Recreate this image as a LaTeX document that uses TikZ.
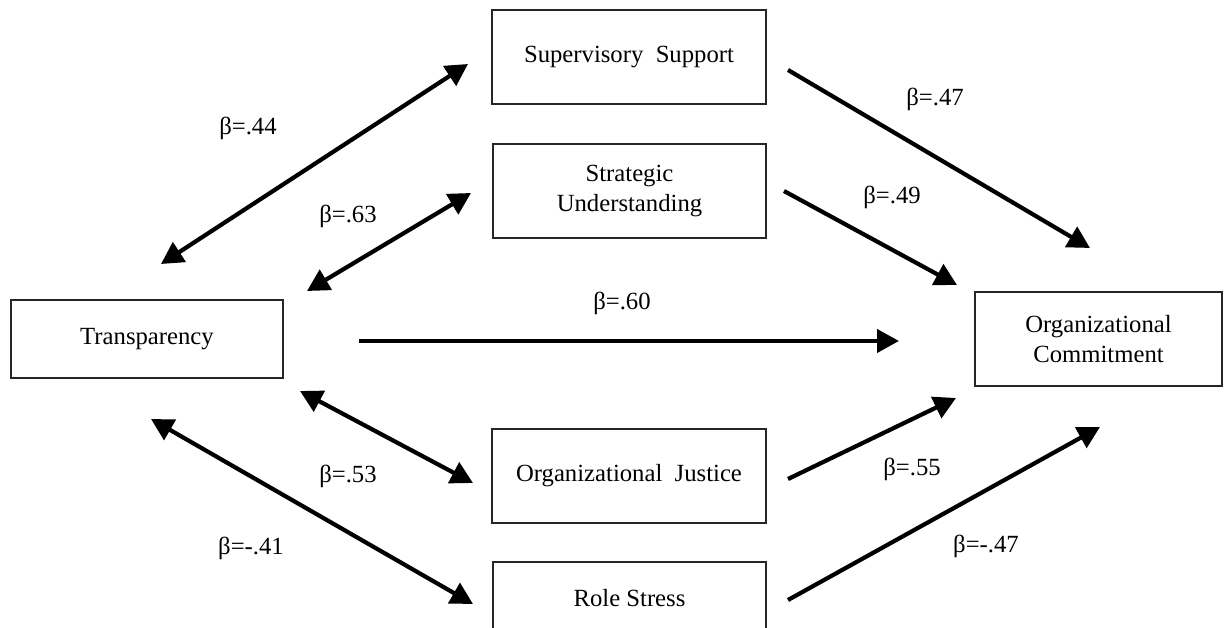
\documentclass[tikz,border=0pt]{standalone}
\usepackage{fontspec}
\setmainfont{Liberation Serif}
\usetikzlibrary{arrows.meta}
\begin{document}
\begin{tikzpicture}[x=1pt,y=-1pt,
  every node/.style={font=\fontsize{24.7pt}{30pt}\selectfont},
  box/.style={draw=black!85, line width=1.4pt, minimum height=94pt, align=center, inner sep=0pt},
  lbl/.style={inner sep=0pt},
  conn/.style={line width=4.2pt, -{Triangle[length=22pt,width=23pt]}},
  dconn/.style={line width=4.2pt, {Triangle[length=22pt,width=23pt]}-{Triangle[length=22pt,width=23pt]}}]
\useasboundingbox (0,0) rectangle (1224,628);
\fill[white] (0,0) rectangle (1224,628);
\clip (0,0) rectangle (1224,628);

% boxes
\node[box, minimum width=274pt] (sup) at (629,57) {Supervisory\ \ Support};
\node[box, minimum width=273pt] (strat) at (629.5,191) {Strategic\\Understanding};
\node[box, minimum width=272pt, minimum height=78pt] (tr) at (147,339) {Transparency};
\node[box, minimum width=247pt] (oc) at (1098.5,339) {Organizational\\Commitment};
\node[box, minimum width=274pt] (oj) at (629,476) {Organizational\ \ Justice};
\node[box, minimum width=273pt, minimum height=72pt] (rs) at (629.5,598) {Role Stress};

% connector end points
\coordinate (a1s) at (161,264); \coordinate (a1e) at (468,64);
\coordinate (a2s) at (307,291); \coordinate (a2e) at (471,193);
\coordinate (a3s) at (359,341); \coordinate (a3e) at (899,341);
\coordinate (a4s) at (300,391); \coordinate (a4e) at (473,483);
\coordinate (a5s) at (151,419); \coordinate (a5e) at (473,604);
\coordinate (a6s) at (788,70);  \coordinate (a6e) at (1090,248);
\coordinate (a7s) at (784,191); \coordinate (a7e) at (957,285);
\coordinate (a8s) at (788,479); \coordinate (a8e) at (956,398);
\coordinate (a9s) at (788,600); \coordinate (a9e) at (1100,427);

% connectors
\draw[dconn] (a1s) -- (a1e);
\draw[dconn] (a2s) -- (a2e);
\draw[conn]  (a3s) -- (a3e);
\draw[dconn] (a4s) -- (a4e);
\draw[dconn] (a5s) -- (a5e);
\draw[conn]  (a6s) -- (a6e);
\draw[conn]  (a7s) -- (a7e);
\draw[conn]  (a8s) -- (a8e);
\draw[conn]  (a9s) -- (a9e);

% labels
\node[lbl] (l1) at (248,128) {β=.44};
\node[lbl] (l2) at (348,216) {β=.63};
\node[lbl] (l3) at (622,303) {β=.60};
\node[lbl] (l4) at (348,476) {β=.53};
\node[lbl] (l5) at (251,548) {β=-.41};
\node[lbl] (l6) at (935,99) {β=.47};
\node[lbl] (l7) at (892,197) {β=.49};
\node[lbl] (l8) at (912,469) {β=.55};
\node[lbl] (l9) at (986,546) {β=-.47};
\end{tikzpicture}
\end{document}
